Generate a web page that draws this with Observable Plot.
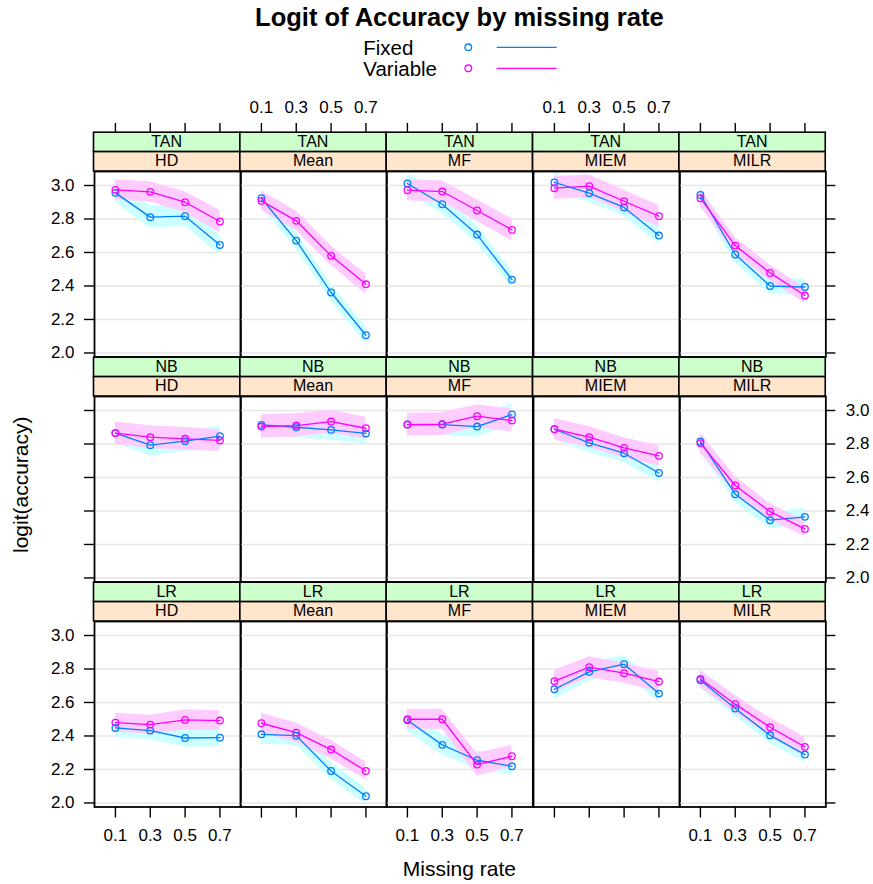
<!DOCTYPE html>
<html>
<head>
<meta charset="utf-8">
<script src="https://cdn.jsdelivr.net/npm/d3@7"></script>
<script src="https://cdn.jsdelivr.net/npm/@observablehq/plot@0.6"></script>
<style>
  body { margin: 0; background: #fff; }
  #chart { position: relative; width: 873px; height: 884px; overflow: hidden; background: #fff;
           font-family: "Liberation Sans", Arial, sans-serif; }
  #chart svg { position: absolute; }
</style>
</head>
<body>
<div id="chart"></div>
<script>
// ---------------- data ----------------
const missingRates = ["0.1", "0.3", "0.5", "0.7"];
const classifiers = ["TAN", "NB", "LR"];
const methods = ["HD", "Mean", "MF", "MIEM", "MILR"];
const seriesNames = ["Fixed", "Variable"];
const seriesColors = ["#0080ff", "#ff00ff"];
const bandColors = ["#ccffff", "#ffccff"];
const yTicks = [2.0, 2.2, 2.4, 2.6, 2.8, 3.0];

// mean logit(accuracy); rows follow `methods`, columns follow `missingRates`
const TAN_Fixed = [
  [2.956, 2.811, 2.817, 2.645],
  [2.924, 2.671, 2.361, 2.106],
  [3.012, 2.888, 2.707, 2.438],
  [3.018, 2.954, 2.869, 2.701],
  [2.944, 2.588, 2.400, 2.394]
];
const TAN_Fixed_hw = [
  [0.056, 0.066, 0.062, 0.060],
  [0.050, 0.050, 0.050, 0.050],
  [0.058, 0.055, 0.052, 0.050],
  [0.056, 0.054, 0.052, 0.050],
  [0.050, 0.050, 0.048, 0.048]
];
const TAN_Variable = [
  [2.974, 2.962, 2.900, 2.785],
  [2.908, 2.789, 2.580, 2.410],
  [2.972, 2.964, 2.851, 2.735],
  [2.984, 2.996, 2.906, 2.817],
  [2.924, 2.641, 2.478, 2.343]
];
const TAN_Variable_hw = [
  [0.060, 0.060, 0.062, 0.065],
  [0.058, 0.058, 0.058, 0.058],
  [0.063, 0.063, 0.064, 0.065],
  [0.068, 0.066, 0.065, 0.064],
  [0.050, 0.048, 0.047, 0.046]
];
const NB_Fixed = [
  [2.865, 2.793, 2.817, 2.847],
  [2.914, 2.900, 2.884, 2.863],
  [2.916, 2.916, 2.904, 2.976],
  [2.888, 2.807, 2.745, 2.627],
  [2.815, 2.500, 2.345, 2.365]
];
const NB_Fixed_hw = [
  [0.060, 0.066, 0.062, 0.060],
  [0.062, 0.062, 0.062, 0.062],
  [0.064, 0.064, 0.064, 0.064],
  [0.060, 0.058, 0.057, 0.056],
  [0.055, 0.050, 0.050, 0.050]
];
const NB_Variable = [
  [2.865, 2.841, 2.831, 2.821],
  [2.904, 2.910, 2.934, 2.894],
  [2.916, 2.918, 2.966, 2.940],
  [2.888, 2.841, 2.777, 2.729],
  [2.805, 2.552, 2.396, 2.293]
];
const NB_Variable_hw = [
  [0.066, 0.068, 0.068, 0.064],
  [0.070, 0.070, 0.067, 0.066],
  [0.068, 0.068, 0.068, 0.068],
  [0.064, 0.062, 0.060, 0.060],
  [0.060, 0.052, 0.048, 0.046]
];
const LR_Fixed = [
  [2.448, 2.432, 2.388, 2.390],
  [2.410, 2.402, 2.191, 2.040],
  [2.494, 2.347, 2.255, 2.219],
  [2.679, 2.783, 2.829, 2.653],
  [2.733, 2.564, 2.404, 2.289]
];
const LR_Fixed_hw = [
  [0.056, 0.056, 0.056, 0.056],
  [0.060, 0.058, 0.052, 0.046],
  [0.066, 0.060, 0.055, 0.050],
  [0.058, 0.055, 0.052, 0.052],
  [0.050, 0.048, 0.047, 0.046]
];
const LR_Variable = [
  [2.480, 2.468, 2.496, 2.492],
  [2.476, 2.420, 2.319, 2.191],
  [2.500, 2.500, 2.229, 2.279],
  [2.727, 2.811, 2.775, 2.725],
  [2.741, 2.590, 2.452, 2.335]
];
const LR_Variable_hw = [
  [0.056, 0.056, 0.060, 0.058],
  [0.060, 0.058, 0.055, 0.052],
  [0.060, 0.060, 0.068, 0.064],
  [0.064, 0.062, 0.060, 0.060],
  [0.050, 0.052, 0.055, 0.058]
];

const seriesTables = {
  TAN: [[TAN_Fixed, TAN_Fixed_hw], [TAN_Variable, TAN_Variable_hw]],
  NB:  [[NB_Fixed, NB_Fixed_hw], [NB_Variable, NB_Variable_hw]],
  LR:  [[LR_Fixed, LR_Fixed_hw], [LR_Variable, LR_Variable_hw]]
};

const rows = [];
classifiers.forEach(cls => {
  seriesNames.forEach((s, k) => {
    const [means, hws] = seriesTables[cls][k];
    methods.forEach((m, mi) => {
      missingRates.forEach((mr, i) => {
        const v = means[mi][i], h = hws[mi][i];
        rows.push({classifier: cls, method: m, type: s, x: i + 1, mean: v, lo: v - h, hi: v + h});
      });
    });
  });
});

// ---------------- layout ----------------
const FONT = '"Liberation Sans", Arial, sans-serif';
const PX0 = 93.5, PW = 146.35, PH = 185.5, STRIP_H = 19.4;
const PT = [171, 396, 621];
const M = 60;
const xDomain = [0.4, 4.6];
const yDomain = [1.976, 3.0836];
const chart = document.getElementById("chart");
const fmt = d3.format(".1f");
const blank = () => "";
const baseStyle = {background: "transparent", overflow: "visible", fontFamily: FONT, fontSize: "17px", color: "black"};

function place(svg, left, top) {
  svg.style.left = left + "px";
  svg.style.top = top + "px";
  chart.appendChild(svg);
}

for (let r = 0; r < 3; r++) {
  for (let c = 0; c < 5; c++) {
    const cls = classifiers[r], m = methods[c];
    const d = rows.filter(v => v.classifier === cls && v.method === m);
    const marks = [Plot.gridY(yTicks, {stroke: "#e6e6e6", strokeOpacity: 1, strokeWidth: 1.4})];
    seriesNames.forEach((s, k) => marks.push(Plot.areaY(d.filter(v => v.type === s),
      {x: "x", y1: "lo", y2: "hi", fill: bandColors[k]})));
    seriesNames.forEach((s, k) => marks.push(Plot.line(d.filter(v => v.type === s),
      {x: "x", y: "mean", stroke: seriesColors[k], strokeWidth: 1.3})));
    seriesNames.forEach((s, k) => marks.push(Plot.dot(d.filter(v => v.type === s),
      {x: "x", y: "mean", r: 3.3, stroke: seriesColors[k], strokeWidth: 1.3, fill: "none"})));
    marks.push(Plot.frame({stroke: "black", strokeWidth: 1.8}));
    const yOpts = {domain: yDomain, label: null};
    if (c === 0) {
      marks.push(Plot.axisY(yTicks, {anchor: "left", tickSize: 10, tickPadding: 10, strokeWidth: 1.4,
        tickFormat: r === 1 ? blank : fmt}));
    }
    if (c === 4) {
      marks.push(Plot.axisY(yTicks, {anchor: "right", tickSize: 9, tickPadding: 11, strokeWidth: 1.4,
        tickFormat: r === 1 ? fmt : blank}));
    }
    if (c !== 0 && c !== 4) yOpts.axis = null;
    const xOpts = {domain: xDomain, label: null};
    if (r === 2) {
      marks.push(Plot.axisX([1, 2, 3, 4], {anchor: "bottom", tickSize: 11, tickPadding: 11, strokeWidth: 1.4,
        tickFormat: c % 2 === 0 ? (i => missingRates[i - 1]) : blank}));
    } else {
      xOpts.axis = null;
    }
    const svg = Plot.plot({
      width: PW + 2 * M, height: PH + 2 * M,
      marginLeft: M, marginRight: M, marginTop: M, marginBottom: M,
      x: xOpts,
      y: yOpts,
      style: baseStyle,
      marks
    });
    place(svg, PX0 + c * PW - M, PT[r] - M);
  }
}

// top axes above the first row of strips
const topStrip = PT[0] - 2 * STRIP_H;
for (let c = 0; c < 5; c++) {
  const svg = Plot.plot({
    width: PW + 2 * M, height: M + 10,
    marginLeft: M, marginRight: M, marginTop: M, marginBottom: 0,
    x: {domain: xDomain, label: null},
    style: baseStyle,
    marks: [Plot.axisX([1, 2, 3, 4], {anchor: "top", tickSize: 10, tickPadding: 9, strokeWidth: 1.4,
      tickFormat: c % 2 === 1 ? (i => missingRates[i - 1]) : blank})]
  });
  place(svg, PX0 + c * PW - M, topStrip - M);
}

// ---------------- strips, titles, legend ----------------
const over = d3.create("svg").attr("width", 873).attr("height", 884)
  .style("left", "0px").style("top", "0px").style("font-family", FONT);
for (let r = 0; r < 3; r++) {
  for (let c = 0; c < 5; c++) {
    const x0 = PX0 + c * PW, y0 = PT[r] - 2 * STRIP_H;
    [[classifiers[r], "#ccffcc"], [methods[c], "#ffe5cc"]].forEach(([label, col], j) => {
      const yy = y0 + j * STRIP_H;
      over.append("rect").attr("x", x0).attr("y", yy).attr("width", PW).attr("height", STRIP_H)
        .attr("fill", col).attr("stroke", "black").attr("stroke-width", 1.6);
      over.append("text").attr("x", x0 + PW / 2).attr("y", yy + 14.8).attr("text-anchor", "middle")
        .attr("font-size", 16).text(label);
    });
  }
}
const cx = PX0 + 2.5 * PW;
over.append("text").attr("x", cx).attr("y", 26).attr("text-anchor", "middle")
  .attr("font-size", 25.5).attr("font-weight", "bold").text("Logit of Accuracy by missing rate");
seriesNames.forEach((s, k) => {
  const yy = 47.3 + k * 21;
  over.append("text").attr("x", 363.3).attr("y", yy + 7.5).attr("font-size", 20.5).text(s);
  over.append("circle").attr("cx", 468.3).attr("cy", yy).attr("r", 3.3)
    .attr("fill", "none").attr("stroke", seriesColors[k]).attr("stroke-width", 1.3);
  over.append("line").attr("x1", 496.7).attr("x2", 556.7).attr("y1", yy).attr("y2", yy)
    .attr("stroke", seriesColors[k]).attr("stroke-width", 1.3);
});
over.append("text").attr("x", cx).attr("y", 876).attr("text-anchor", "middle")
  .attr("font-size", 21).text("Missing rate");
over.append("text").attr("transform", `translate(21,${PT[1] + PH / 2 - 4}) rotate(-90)`)
  .attr("text-anchor", "middle").attr("dy", "0.35em").attr("font-size", 21).text("logit(accuracy)");
chart.appendChild(over.node());
</script>
</body>
</html>
